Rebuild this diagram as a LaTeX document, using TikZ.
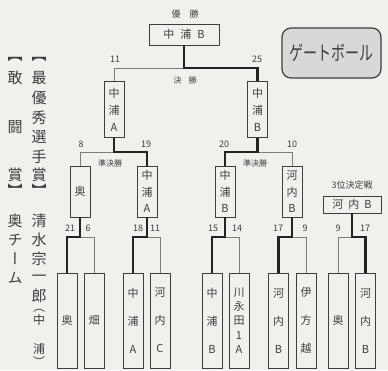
\documentclass[tikz,border=0pt]{standalone}
\usepackage{fontspec}
\usepackage{graphicx}
\usepackage{tikz}
\usetikzlibrary{positioning}
\setmainfont{Noto Sans CJK JP}
\newfontfamily\tatefont[RawFeature=+vert]{Noto Sans CJK JP}
\definecolor{gbpaper}{RGB}{240, 240, 237}
\definecolor{gbink}{RGB}{62, 62, 62}
\definecolor{gbwin}{RGB}{35, 35, 35}
\definecolor{gblose}{RGB}{125, 125, 125}
\definecolor{gbfill}{RGB}{216, 216, 214}
\tikzset{
    teambox/.style={draw=gbink, line width=0.9pt, inner sep=0pt, minimum width=20pt, align=center, text=gbink, font=\fontsize{11}{17}\selectfont},
    finalbox/.style={teambox, minimum height=56pt},
    semibox/.style={teambox, minimum height=51pt, font=\fontsize{11}{16.5}\selectfont},
    firstbox/.style={teambox, minimum height=95pt, font=\fontsize{11}{28}\selectfont},
    widebox/.style={teambox, minimum height=17pt},
    score/.style={font=\fontsize{9}{9}\selectfont, text=gbink, inner sep=0pt},
    roundlbl/.style={font=\fontsize{8}{8}\selectfont, text=gbink, inner sep=0pt},
    winline/.style={draw=gbwin, line width=2.4pt},
    loseline/.style={draw=gblose, line width=1pt},
    tatechar/.style={font=\tatefont\fontsize{15}{15}\selectfont, text=gbink, inner sep=0pt},
    tatesmall/.style={tatechar, font=\tatefont\fontsize{12}{12}\selectfont}
}

\begin{document}
\begin{tikzpicture}[x=1pt, y=-1pt]
    \fill[gbpaper] (0,0) rectangle (388,370);
    \useasboundingbox (0,0) rectangle (388,370);

    \node[roundlbl, font=\fontsize{9}{9}\selectfont] (yusho) at (185,14) {優\hspace{9pt}勝};
    \node[teambox, minimum width=70pt, minimum height=21pt] (champ) at (184,34.5) {中\hspace{6pt}浦\hspace{6pt}B};

    \node[draw=gbink, line width=1.2pt, fill=gbfill, rounded corners=9pt, minimum width=99pt, minimum height=50pt, inner sep=0pt, text=gbink, font=\fontsize{20}{20}\selectfont] (title) at (331.5,53) {\scalebox{0.7}[1]{ゲートボール}};

    \node[finalbox] (finA) at (114,109.5) {中\\浦\\A};
    \node[finalbox] (finB) at (257.5,109.5) {中\\浦\\B};

    \node[semibox] (sfA) at (80,191.5) {奥};
    \node[semibox] (sfB) at (147,191.5) {中\\浦\\A};
    \node[semibox] (sfC) at (225,191.5) {中\\浦\\B};
    \node[semibox] (sfD) at (292,191.5) {河\\内\\B};
    \node[widebox, minimum width=58pt] (third) at (352,204.5) {河\hspace{5pt}内\hspace{5pt}B};

    \node[firstbox] (r1) at (67,320.5) {奥};
    \node[firstbox] (r2) at (94,320.5) {畑};
    \node[firstbox] (r3) at (133,320.5) {中\\浦\\A};
    \node[firstbox] (r4) at (160,320.5) {河\\内\\C};
    \node[firstbox] (r5) at (212,320.5) {中\\浦\\B};
    \node[firstbox, font=\fontsize{11}{14.3}\selectfont] (r6) at (239,320.5) {川\\永\\田\\1\\A};
    \node[firstbox] (r7) at (278.5,320.5) {河\\内\\B};
    \node[firstbox] (r8) at (306,320.5) {伊\\方\\越};
    \node[firstbox] (r9) at (338,320.5) {奥};
    \node[firstbox] (r10) at (365.5,320.5) {河\\内\\B};

    \coordinate (jF) at (champ.south |- 0,68);
    \draw[loseline] (jF) -| (finA.north);
    \draw[winline] (champ.south) -- (jF) -| (finB.north);

    \coordinate (jSA) at (finA.south |- 0,152);
    \draw[loseline] (jSA) -| (sfA.north);
    \draw[winline] (finA.south) -- (jSA) -| (sfB.north);
    \coordinate (jSB) at (finB.south |- 0,152);
    \draw[loseline] (jSB) -| (sfD.north);
    \draw[winline] (finB.south) -- (jSB) -| (sfC.north);

    \coordinate (j1) at (sfA.south |- 0,237);
    \draw[loseline] (j1) -| (r2.north);
    \draw[winline] (sfA.south) -- (j1) -| (r1.north);
    \coordinate (j2) at (sfB.south |- 0,237);
    \draw[loseline] (j2) -| (r4.north);
    \draw[winline] (sfB.south) -- (j2) -| (r3.north);
    \coordinate (j3) at (sfC.south |- 0,237);
    \draw[loseline] (j3) -| (r6.north);
    \draw[winline] (sfC.south) -- (j3) -| (r5.north);
    \coordinate (j4) at (sfD.south |- 0,237);
    \draw[loseline] (j4) -| (r8.north);
    \draw[winline] (sfD.south) -- (j4) -| (r7.north);
    \coordinate (j5) at (third.south |- 0,237);
    \draw[loseline] (j5) -| (r9.north);
    \draw[winline] (third.south) -- (j5) -| (r10.north);

    \node[roundlbl] (kessho) at (185,80) {決\hspace{7pt}勝};
    \node[roundlbl] (junA) at (110,163) {準決勝};
    \node[roundlbl] (junB) at (255,163) {準決勝};
    \node[roundlbl, font=\fontsize{9}{9}\selectfont] (sanni) at (352,185) {3位決定戦};

    \node[score] (s11) at (115,59) {11};
    \node[score] (s25) at (257,59) {25};
    \node[score] (s8) at (81,144) {8};
    \node[score] (s19) at (146,144) {19};
    \node[score] (s20) at (224,144) {20};
    \node[score] (s10) at (292,144) {10};
    \foreach \sc/\xx [count=\i] in {21/70, 6/88, 18/138, 11/155, 15/213, 14/237, 17/278, 9/305, 9/338, 17/365}
        \node[score] (f\i) at (\xx,228) {\sc};

    \foreach \ch/\yy [count=\i] in {【/60, 最/78, 優/98, 秀/118, 選/137, 手/157, 賞/175, 】/190, 清/221, 水/240, 宗/259, 一/278, 郎/296}
        \node[tatechar] (mvp\i) at (39,\yy) {\ch};
    \foreach \ch/\yy [count=\i] in {（/311, 中/320, 浦/349, ）/361}
        \node[tatesmall] (club\i) at (39,\yy) {\ch};
    \foreach \ch/\yy [count=\i] in {【/60, 敢/78, 闘/127, 賞/175, 】/190, 奥/221, チ/240, ー/259, ム/278}
        \node[tatechar] (kanto\i) at (15,\yy) {\ch};
\end{tikzpicture}
\end{document}
